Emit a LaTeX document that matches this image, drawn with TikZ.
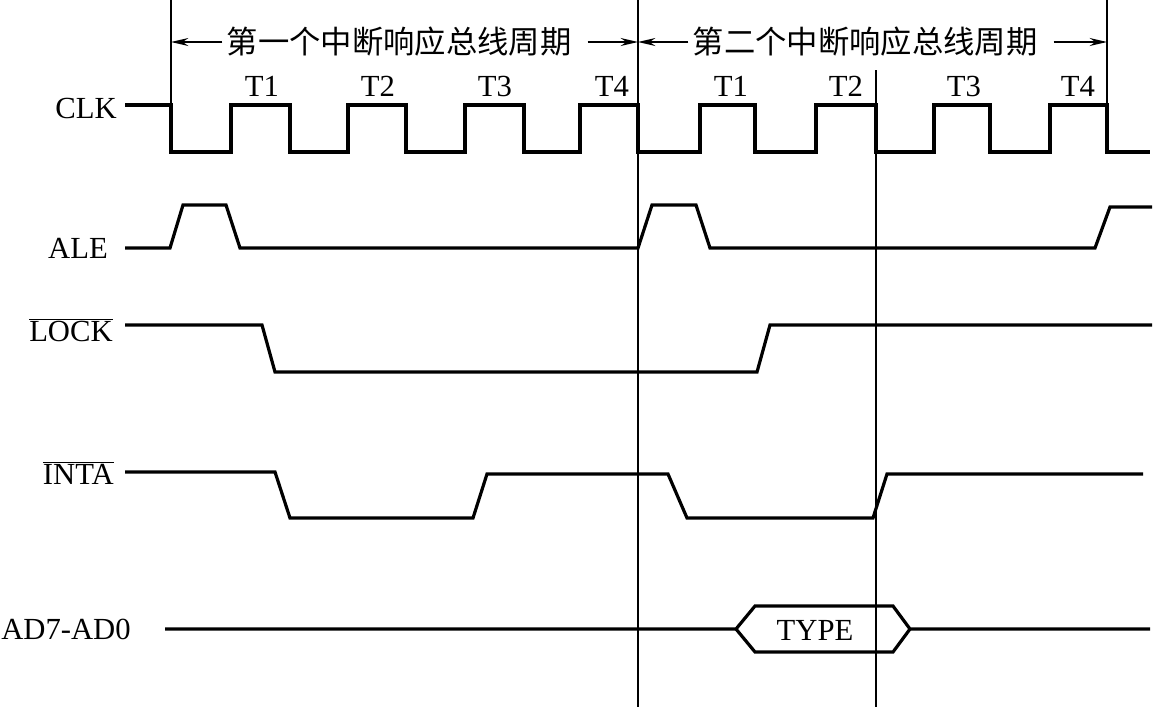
\documentclass[tikz,border=0pt]{standalone}
\usepackage{fontspec}
\setmainfont{Liberation Serif}
\newfontfamily\cjk{Noto Sans CJK SC}
\usetikzlibrary{arrows.meta}
\begin{document}
\begin{tikzpicture}[x=0.75pt,y=-0.75pt,
  sig/.style={line width=2.4pt,line join=miter},
  grid/.style={line width=1pt},
  lbl/.style={font=\fontsize{23}{27}\selectfont,inner sep=0pt},
  tlbl/.style={font=\fontsize{23}{27}\selectfont,inner sep=0pt},
  ttl/.style={font=\cjk\fontsize{23.5}{27}\selectfont,inner sep=0pt},
  arr/.style={line width=1.2pt,-{Stealth[length=13pt,width=6pt]}}]
\useasboundingbox (0,0) rectangle (1167,707);
% vertical reference lines
\coordinate (v1t) at (171,0); \coordinate (v1b) at (171,152);
\coordinate (v2t) at (638,0); \coordinate (v2b) at (638,707);
\coordinate (v3t) at (876,70); \coordinate (v3b) at (876,707);
\coordinate (v4t) at (1107,0); \coordinate (v4b) at (1107,152);
\draw[grid] (v1t) -- (v1b);
\draw[grid] (v2t) -- (v2b);
\draw[grid] (v3t) -- (v3b);
\draw[grid] (v4t) -- (v4b);
% titles
\node[ttl] (c1) at (399,42) {第一个中断响应总线周期};
\node[ttl] (c2) at (865,42) {第二个中断响应总线周期};
\coordinate (a1) at (171,42); \coordinate (a2) at (638,42);
\coordinate (a3) at (1107,42);
\draw[arr] ([xshift=-3pt]c1.west) -- (a1);
\draw[arr] ([xshift=12pt]c1.east) -- (a2);
\draw[arr] ([xshift=-3pt]c2.west) -- (a2);
\draw[arr] ([xshift=12pt]c2.east) -- (a3);
% T labels
\foreach \x/\t [count=\i] in {262/T1,378/T2,495/T3,612/T4,731/T1,846/T2,964/T3,1078/T4}
  \node[tlbl] (t\i) at (\x,86) {\t};
% signal labels
\node[lbl,anchor=east] (clk) at (117,108) {CLK};
\node[lbl,anchor=east] (ale) at (108,248) {ALE};
\node[lbl,anchor=east] (lock) at (113,330) {$\overline{\hbox{LOCK}}$};
\node[lbl,anchor=east] (inta) at (114,473) {$\overline{\hbox{INTA}}$};
\node[lbl,anchor=east] (ad) at (131,629) {AD7-AD0};
% CLK
\draw[sig] (125,105) -- (171,105) -- (171,152) -- (231,152) -- (231,105) -- (290,105)
  -- (290,152) -- (348,152) -- (348,105) -- (406,105) -- (406,152) -- (465,152)
  -- (465,105) -- (524,105) -- (524,152) -- (580,152) -- (580,105) -- (638,105)
  -- (638,152) -- (700,152) -- (700,105) -- (755,105) -- (755,152) -- (816,152)
  -- (816,105) -- (876,105) -- (876,152) -- (934,152) -- (934,105) -- (990,105)
  -- (990,152) -- (1050,152) -- (1050,105) -- (1107,105) -- (1107,152) -- (1150,152);
% ALE
\draw[sig] (125,248) -- (170,248) -- (183,205) -- (226,205) -- (240,248) -- (638,248)
  -- (652,205) -- (696,205) -- (710,248) -- (1095,248) -- (1110,207) -- (1152,207);
% LOCK
\draw[sig] (125,325) -- (262,325) -- (275,372) -- (757,372) -- (770,325) -- (1152,325);
% INTA
\draw[sig] (125,472) -- (275,472) -- (290,518) -- (473,518) -- (487,474) -- (668,474)
  -- (687,518) -- (873,518) -- (887,474) -- (1143,474);
% AD7-AD0
\node[lbl] (type) at (815,630) {TYPE};
\draw[sig] (165,629) -- (736,629) -- (755,606) -- (893,606) -- (910,629) -- (1150,629);
\draw[sig] (736,629) -- (755,652) -- (893,652) -- (910,629);
\end{tikzpicture}
\end{document}
